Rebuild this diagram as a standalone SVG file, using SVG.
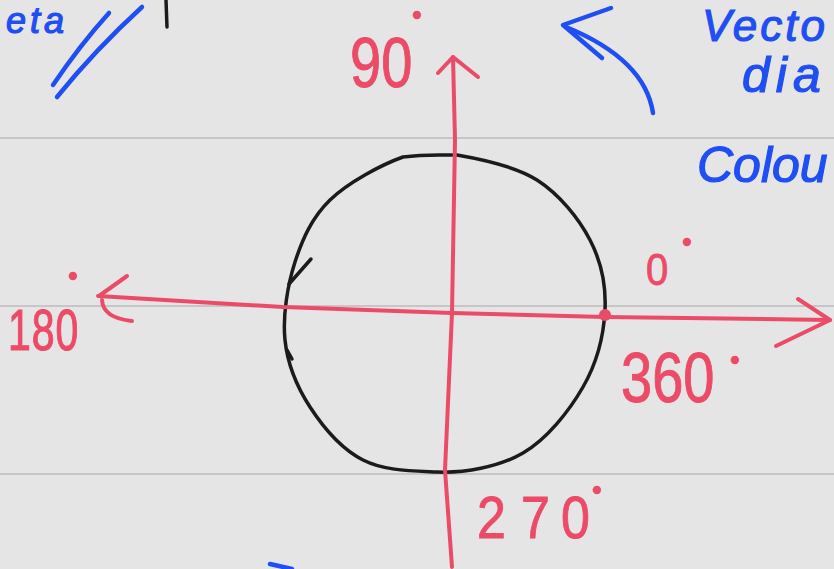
<svg xmlns="http://www.w3.org/2000/svg" width="834" height="569" viewBox="0 0 834 569">
<style>
.rule{stroke:#c6c6c6;stroke-width:2;fill:none}
.red{stroke:#ec4b67;stroke-width:4;fill:none;stroke-linecap:round;stroke-linejoin:round}
.blue{stroke:#1f4ef2;stroke-width:4.5;fill:none;stroke-linecap:round;stroke-linejoin:round}
.ink{stroke:#1b1b1b;stroke-width:3.5;fill:none;stroke-linecap:round;stroke-linejoin:round}
.rt{fill:#ec4b67;stroke:#ec4b67;stroke-width:0.8;font-family:"Liberation Sans",Arial,sans-serif}
.bt{fill:#1f4ef2;stroke:#1f4ef2;stroke-width:1.2;font-family:"Liberation Sans",sans-serif;font-style:italic}
.deg{fill:#ec4b67;stroke:#ec4b67;stroke-width:4.5;font-family:"Liberation Sans",sans-serif;font-weight:bold;font-size:12px}
</style>
<rect width="834" height="569" fill="#e5e5e5"/>
<g id="ruled-lines">
<line class="rule" x1="0" y1="138" x2="834" y2="138"/>
<line class="rule" x1="0" y1="306" x2="834" y2="306"/>
<line class="rule" x1="0" y1="474" x2="834" y2="474"/>
</g>
<g id="circle">
<path class="ink" d="M403,157 C425,154 435,155 457,155 C479,158.8 514.8,165.8 537,180 C559.2,194.2 578.7,218.3 590,240 C601.3,261.7 606.2,285.5 605,310 C603.8,334.5 596.7,363.2 583,387 C569.3,410.8 547.3,438.8 523,453 C498.7,467.2 463.7,473.2 437,472 C410.3,470.8 384.2,470.8 363,460 C341.8,449.2 323,427 310,407 C297,387 287.5,364.2 285,340 C282.5,315.8 287.5,285.3 295,262 C302.5,238.7 312,217.5 330,200 C348,182.5 381.8,164.5 403,157 Z"/>
<path class="ink" d="M289,284 L311,259"/>
<path class="ink" stroke-width="2.5" d="M287,350 L292,359"/>
</g>
<g id="connectors">
<path class="red" d="M98,296 L283,307 L452,313 L605,317 L830,320"/>
<path class="red" d="M127,276 L99,296 M102,300 Q103,318 132,321"/>
<path class="red" d="M798,299 L830,320 L776,346"/>
<path class="red" d="M453,57 L455,140 L452,313 L445,470 L452,567"/>
<path class="red" d="M438,73 L453,57 L478,77"/>
<circle cx="605" cy="315" r="6" fill="#ec4b67"/>
</g>
<g id="label-90"><text class="rt" transform="translate(350,87) scale(1,1.25)" font-size="56">90</text><text class="deg" x="414.6" y="21.8">°</text></g>
<g id="label-180"><text class="rt" transform="translate(8,350) scale(1,1.4)" font-size="41" letter-spacing="1">180</text><text class="deg" x="70.6" y="283">°</text></g>
<g id="label-0"><text class="rt" transform="translate(646,285) scale(1,1.12)" font-size="40">0</text><text class="deg" x="684.6" y="249">°</text></g>
<g id="label-360"><text class="rt" transform="translate(621,402) scale(1,1.25)" font-size="56">360</text><text class="deg" x="732.6" y="367">°</text></g>
<g id="label-270"><text class="rt" transform="translate(477,538) scale(1,1.15)" font-size="52" x="0 44 84">270</text><text class="deg" x="594.6" y="497">°</text></g>
<g id="notes">
<text class="bt" x="702" y="41" font-size="44" letter-spacing="3">Vecto</text>
<text class="bt" x="742" y="92" font-size="50" letter-spacing="6">dia</text>
<text class="bt" x="697" y="182" font-size="50">Colou</text>
<text class="bt" x="6" y="33" font-size="36" letter-spacing="4">eta</text>
<path class="blue" d="M109,13 Q80,45 53,85"/>
<path class="blue" d="M142,7 Q95,50 57,97"/>
<path class="blue" d="M653,113 C648,80 622,50 566,27"/>
<path class="blue" d="M611,8 L563,25 L602,58"/>
<path class="blue" d="M270,564 L292,569"/>
<path class="ink" stroke-width="5" d="M166,0 L167,27"/>
</g>
</svg>
